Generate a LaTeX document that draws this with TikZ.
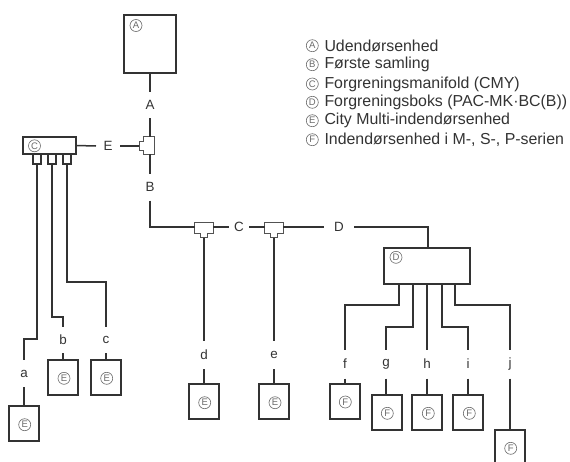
\documentclass[tikz,border=0pt]{standalone}
\usepackage{fontspec}
\setmainfont{Liberation Sans}
\definecolor{ink}{HTML}{333333}
\definecolor{soft}{HTML}{6A6A6A}
\tikzset{
  pipe/.style={line width=1.5pt,draw=ink},
  unitbox/.style={draw=ink,line width=1.5pt,fill=white,inner sep=0pt,outer sep=0pt},
  bigbox/.style={draw=ink,line width=1.2pt,fill=white,inner sep=0pt,outer sep=0pt},
  stub/.style={draw=ink,line width=1.3pt,fill=white,inner sep=0pt,outer sep=0pt,minimum width=8pt,minimum height=10pt},
  tag/.style={inner sep=0pt,outer sep=0pt,text=ink,font=\fontsize{13.4}{13.4}\selectfont},
  circled/.style={circle,draw=soft,line width=0.6pt,inner sep=0pt,minimum size=12pt,text=soft,font=\fontsize{9.5}{9.5}\selectfont},
  legend/.style={anchor=west,inner sep=0pt,text=ink,font=\fontsize{15.9}{15.9}\selectfont},
  tee/.style={draw=ink!85,line width=1pt,fill=white}
}
\newcommand{\teedown}[3]{%
  \draw[tee] (#2-9.2,#3-5.5)--(#2+9.2,#3-5.5)--(#2+9.2,#3+5)--(#2+3.6,#3+5)--(#2+3.6,#3+9.7)--(#2-3.6,#3+9.7)--(#2-3.6,#3+5)--(#2-9.2,#3+5)--cycle;
  \coordinate (#1-l) at (#2-9.2,#3-1);
  \coordinate (#1-r) at (#2+9.2,#3-1);
  \coordinate (#1-b) at (#2,#3+9.7);
}
\begin{document}
\begin{tikzpicture}[x=1pt,y=-1pt]
\useasboundingbox (0,0) rectangle (570,461);
\clip (0,0) rectangle (570,461);

% boxes
\node[bigbox,minimum width=52pt,minimum height=58pt] (boxA) at (150,44) {};
\node[circled] (cA) at (136,25.5) {A};
\node[unitbox,minimum width=53pt,minimum height=17pt] (boxC) at (49.5,145.5) {};
\node[circled] (cC) at (34.5,145.8) {C};
\node[stub] (s1) at (37,159) {};
\node[stub] (s2) at (52,159) {};
\node[stub] (s3) at (67,159) {};
\node[unitbox,minimum width=86pt,minimum height=36pt] (boxD) at (427,266) {};
\node[circled] (cD) at (396,257.3) {D};

% E units
\node[unitbox,minimum width=30pt,minimum height=35pt] (ua) at (24,423.5) {};
\node[circled] (cua) at (24.7,424.7) {E};
\node[unitbox,minimum width=30pt,minimum height=35pt] (ub) at (63,377.5) {};
\node[circled] (cub) at (64,378.3) {E};
\node[unitbox,minimum width=30pt,minimum height=35pt] (uc) at (106,377.5) {};
\node[circled] (cuc) at (106.7,378.3) {E};
\node[unitbox,minimum width=30pt,minimum height=35pt] (ud) at (204,401.5) {};
\node[circled] (cud) at (204.7,402.7) {E};
\node[unitbox,minimum width=30pt,minimum height=35pt] (ue) at (274,401.5) {};
\node[circled] (cue) at (275,402.7) {E};

% F units
\node[unitbox,minimum width=30pt,minimum height=35pt] (uf) at (345,401.5) {};
\node[circled] (cuf) at (345.3,402) {F};
\node[unitbox,minimum width=30pt,minimum height=35pt] (ug) at (387,412.5) {};
\node[circled] (cug) at (387.3,413.3) {F};
\node[unitbox,minimum width=30pt,minimum height=35pt] (uh) at (427,412.5) {};
\node[circled] (cuh) at (428.3,413.3) {F};
\node[unitbox,minimum width=30pt,minimum height=35pt] (ui) at (468,412.5) {};
\node[circled] (cui) at (469.3,413.3) {F};
\node[unitbox,minimum width=30pt,minimum height=35pt] (uj) at (510,447.5) {};
\node[circled] (cuj) at (510.7,448.3) {F};

% tees
\draw[tee] (143.3,136.7)--(154,136.7)--(154,154.3)--(143.3,154.3)--(143.3,150.3)--(139,150.3)--(139,141.7)--(143.3,141.7)--cycle;
\coordinate (tE-t) at (150,136.7);
\coordinate (tE-b) at (150,154.3);
\coordinate (tE-l) at (139,146);
\teedown{t1}{204}{228}
\teedown{t2}{274}{228}

% labels
\node[tag,minimum width=14pt,minimum height=26pt] (lA) at (150,105) {A};
\node[tag,minimum width=14pt,minimum height=27pt] (lB) at (150,187) {B};
\node[tag,minimum width=24pt,minimum height=12pt] (lE) at (108,146) {E};
\node[tag,minimum width=20pt,minimum height=12pt] (lC) at (239,227) {C};
\node[tag,minimum width=30pt,minimum height=12pt] (lD) at (339,227) {D};
\node[tag,minimum width=10pt,minimum height=27pt] (la) at (24,373.5) {a};
\node[tag,minimum width=10pt,minimum height=26pt] (lb) at (63,340) {b};
\node[tag,minimum width=10pt,minimum height=26pt] (lc) at (106,340) {c};
\node[tag,minimum width=10pt,minimum height=28pt] (ld) at (204,355) {d};
\node[tag,minimum width=10pt,minimum height=28pt] (le) at (274,355) {e};
\node[tag,minimum width=10pt,minimum height=29pt] (lf) at (345,364) {f};
\node[tag,minimum width=10pt,minimum height=29pt] (lg) at (386,364) {g};
\node[tag,minimum width=10pt,minimum height=29pt] (lh) at (427,364) {h};
\node[tag,minimum width=10pt,minimum height=29pt] (li) at (468,364) {i};
\node[tag,minimum width=10pt,minimum height=29pt] (lj) at (510,364) {j};

% connectors
\coordinate (pD) at (428,248);
\draw[pipe] (boxA.south) -- (lA.north);
\draw[pipe] (lA.south) -- (tE-t);
\draw[pipe] (tE-b) -- (lB.north);
\draw[pipe] (lB.south) |- (t1-l);
\draw[pipe] (t1-r) -- (lC.west);
\draw[pipe] (lC.east) -- (t2-l);
\draw[pipe] (t2-r) -- (lD.west);
\draw[pipe] (lD.east) -| (pD);
\draw[pipe] (boxC.east) -- (lE.west);
\draw[pipe] (lE.east) -- (tE-l);
\draw[pipe] (t1-b) -- (ld.north);
\draw[pipe] (ld.south) -- (ud.north);
\draw[pipe] (t2-b) -- (le.north);
\draw[pipe] (le.south) -- (ue.north);

\coordinate (ea) at (37,339);
\draw[pipe] (s1.south) -- (ea) -| (la.north);
\draw[pipe] (la.south) -- (ua.north);
\coordinate (eb) at (52,317);
\draw[pipe] (s2.south) -- (eb) -| (lb.north);
\draw[pipe] (lb.south) -- (ub.north);
\coordinate (ec) at (67,282);
\draw[pipe] (s3.south) -- (ec) -| (lc.north);
\draw[pipe] (lc.south) -- (uc.north);

\coordinate (pf) at (399,284);
\coordinate (ef) at (399,305);
\draw[pipe] (pf) -- (ef) -| (lf.north);
\draw[pipe] (lf.south) -- (uf.north);
\coordinate (pg) at (413,284);
\coordinate (eg) at (413,327);
\draw[pipe] (pg) -- (eg) -| (lg.north);
\draw[pipe] (lg.south) -- (lg.south |- ug.north);
\coordinate (ph) at (427,284);
\draw[pipe] (ph) -- (lh.north);
\draw[pipe] (lh.south) -- (lh.south |- uh.north);
\coordinate (pi) at (442,284);
\coordinate (ei) at (442,327);
\draw[pipe] (pi) -- (ei) -| (li.north);
\draw[pipe] (li.south) -- (li.south |- ui.north);
\coordinate (pj) at (455,284);
\coordinate (ej) at (455,305);
\draw[pipe] (pj) -- (ej) -| (lj.north);
\draw[pipe] (lj.south) -- (uj.north);

% legend
\node[circled] (k1) at (312.3,45.7) {A};
\node[legend] (t1txt) at (324.3,45.7) {Udendørsenhed};
\node[circled] (k2) at (312.3,64.7) {B};
\node[legend] (t2txt) at (324.3,64.7) {Første samling};
\node[circled] (k3) at (312.3,84) {C};
\node[legend] (t3txt) at (324.3,84) {Forgreningsmanifold (CMY)};
\node[circled] (k4) at (312.3,102.3) {D};
\node[legend] (t4txt) at (324.3,102.3) {Forgreningsboks (PAC-MK·BC(B))};
\node[circled] (k5) at (312.3,120.7) {E};
\node[legend] (t5txt) at (324.3,120.7) {City Multi-indendørsenhed};
\node[circled] (k6) at (312.3,139.7) {F};
\node[legend] (t6txt) at (324.3,139.7) {Indendørsenhed i M-, S-, P-serien};
\end{tikzpicture}
\end{document}
